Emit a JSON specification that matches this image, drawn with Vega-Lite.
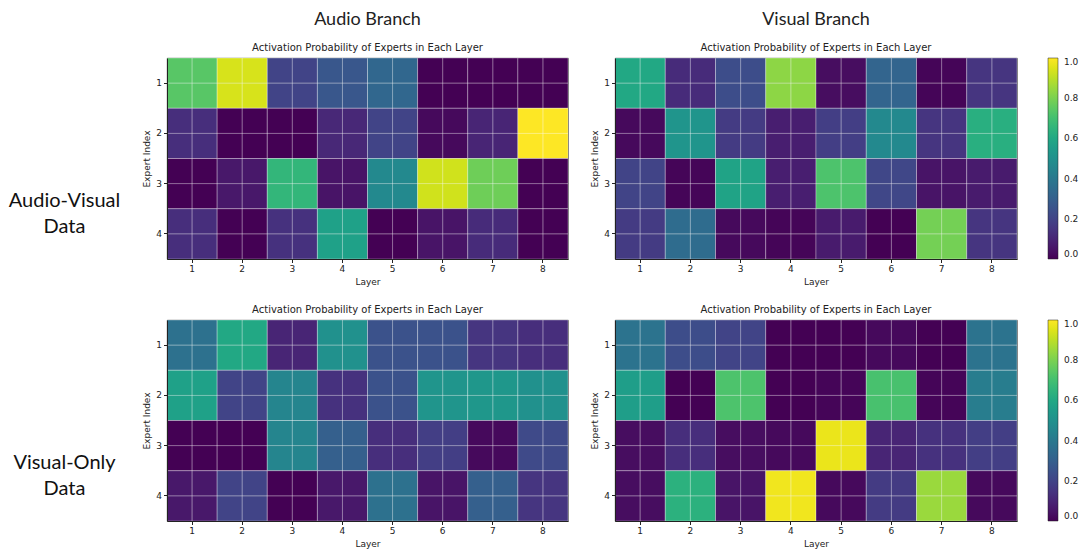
{
  "$schema": "https://vega.github.io/schema/vega-lite/v6.json",
  "padding": {"top": 10, "left": 0, "right": 0, "bottom": 0},
  "background": "white",
  "datasets": {
    "av_audio": [
      {"layer": 1, "expert": 1, "p": 0.74}, {"layer": 1, "expert": 2, "p": 0.13}, {"layer": 1, "expert": 3, "p": 0.0}, {"layer": 1, "expert": 4, "p": 0.13},
      {"layer": 2, "expert": 1, "p": 0.94}, {"layer": 2, "expert": 2, "p": 0.0}, {"layer": 2, "expert": 3, "p": 0.06}, {"layer": 2, "expert": 4, "p": 0.0},
      {"layer": 3, "expert": 1, "p": 0.2}, {"layer": 3, "expert": 2, "p": 0.0}, {"layer": 3, "expert": 3, "p": 0.66}, {"layer": 3, "expert": 4, "p": 0.14},
      {"layer": 4, "expert": 1, "p": 0.27}, {"layer": 4, "expert": 2, "p": 0.11}, {"layer": 4, "expert": 3, "p": 0.05}, {"layer": 4, "expert": 4, "p": 0.57},
      {"layer": 5, "expert": 1, "p": 0.33}, {"layer": 5, "expert": 2, "p": 0.2}, {"layer": 5, "expert": 3, "p": 0.47}, {"layer": 5, "expert": 4, "p": 0.0},
      {"layer": 6, "expert": 1, "p": 0.0}, {"layer": 6, "expert": 2, "p": 0.02}, {"layer": 6, "expert": 3, "p": 0.93}, {"layer": 6, "expert": 4, "p": 0.05},
      {"layer": 7, "expert": 1, "p": 0.0}, {"layer": 7, "expert": 2, "p": 0.1}, {"layer": 7, "expert": 3, "p": 0.78}, {"layer": 7, "expert": 4, "p": 0.12},
      {"layer": 8, "expert": 1, "p": 0.0}, {"layer": 8, "expert": 2, "p": 1.0}, {"layer": 8, "expert": 3, "p": 0.0}, {"layer": 8, "expert": 4, "p": 0.0}
    ],
    "av_visual": [
      {"layer": 1, "expert": 1, "p": 0.6}, {"layer": 1, "expert": 2, "p": 0.02}, {"layer": 1, "expert": 3, "p": 0.2}, {"layer": 1, "expert": 4, "p": 0.17},
      {"layer": 2, "expert": 1, "p": 0.12}, {"layer": 2, "expert": 2, "p": 0.52}, {"layer": 2, "expert": 3, "p": 0.01}, {"layer": 2, "expert": 4, "p": 0.35},
      {"layer": 3, "expert": 1, "p": 0.23}, {"layer": 3, "expert": 2, "p": 0.17}, {"layer": 3, "expert": 3, "p": 0.58}, {"layer": 3, "expert": 4, "p": 0.02},
      {"layer": 4, "expert": 1, "p": 0.83}, {"layer": 4, "expert": 2, "p": 0.08}, {"layer": 4, "expert": 3, "p": 0.08}, {"layer": 4, "expert": 4, "p": 0.01},
      {"layer": 5, "expert": 1, "p": 0.03}, {"layer": 5, "expert": 2, "p": 0.18}, {"layer": 5, "expert": 3, "p": 0.72}, {"layer": 5, "expert": 4, "p": 0.07},
      {"layer": 6, "expert": 1, "p": 0.32}, {"layer": 6, "expert": 2, "p": 0.47}, {"layer": 6, "expert": 3, "p": 0.21}, {"layer": 6, "expert": 4, "p": 0.0},
      {"layer": 7, "expert": 1, "p": 0.01}, {"layer": 7, "expert": 2, "p": 0.15}, {"layer": 7, "expert": 3, "p": 0.05}, {"layer": 7, "expert": 4, "p": 0.79},
      {"layer": 8, "expert": 1, "p": 0.15}, {"layer": 8, "expert": 2, "p": 0.63}, {"layer": 8, "expert": 3, "p": 0.07}, {"layer": 8, "expert": 4, "p": 0.15}
    ],
    "vo_audio": [
      {"layer": 1, "expert": 1, "p": 0.37}, {"layer": 1, "expert": 2, "p": 0.57}, {"layer": 1, "expert": 3, "p": 0.0}, {"layer": 1, "expert": 4, "p": 0.06},
      {"layer": 2, "expert": 1, "p": 0.6}, {"layer": 2, "expert": 2, "p": 0.2}, {"layer": 2, "expert": 3, "p": 0.0}, {"layer": 2, "expert": 4, "p": 0.2},
      {"layer": 3, "expert": 1, "p": 0.1}, {"layer": 3, "expert": 2, "p": 0.45}, {"layer": 3, "expert": 3, "p": 0.45}, {"layer": 3, "expert": 4, "p": 0.0},
      {"layer": 4, "expert": 1, "p": 0.5}, {"layer": 4, "expert": 2, "p": 0.14}, {"layer": 4, "expert": 3, "p": 0.3}, {"layer": 4, "expert": 4, "p": 0.06},
      {"layer": 5, "expert": 1, "p": 0.25}, {"layer": 5, "expert": 2, "p": 0.25}, {"layer": 5, "expert": 3, "p": 0.13}, {"layer": 5, "expert": 4, "p": 0.37},
      {"layer": 6, "expert": 1, "p": 0.25}, {"layer": 6, "expert": 2, "p": 0.52}, {"layer": 6, "expert": 3, "p": 0.18}, {"layer": 6, "expert": 4, "p": 0.05},
      {"layer": 7, "expert": 1, "p": 0.15}, {"layer": 7, "expert": 2, "p": 0.53}, {"layer": 7, "expert": 3, "p": 0.02}, {"layer": 7, "expert": 4, "p": 0.3},
      {"layer": 8, "expert": 1, "p": 0.13}, {"layer": 8, "expert": 2, "p": 0.5}, {"layer": 8, "expert": 3, "p": 0.22}, {"layer": 8, "expert": 4, "p": 0.15}
    ],
    "vo_visual": [
      {"layer": 1, "expert": 1, "p": 0.38}, {"layer": 1, "expert": 2, "p": 0.56}, {"layer": 1, "expert": 3, "p": 0.03}, {"layer": 1, "expert": 4, "p": 0.03},
      {"layer": 2, "expert": 1, "p": 0.23}, {"layer": 2, "expert": 2, "p": 0.0}, {"layer": 2, "expert": 3, "p": 0.13}, {"layer": 2, "expert": 4, "p": 0.64},
      {"layer": 3, "expert": 1, "p": 0.2}, {"layer": 3, "expert": 2, "p": 0.72}, {"layer": 3, "expert": 3, "p": 0.03}, {"layer": 3, "expert": 4, "p": 0.05},
      {"layer": 4, "expert": 1, "p": 0.0}, {"layer": 4, "expert": 2, "p": 0.0}, {"layer": 4, "expert": 3, "p": 0.02}, {"layer": 4, "expert": 4, "p": 0.98},
      {"layer": 5, "expert": 1, "p": 0.0}, {"layer": 5, "expert": 2, "p": 0.01}, {"layer": 5, "expert": 3, "p": 0.97}, {"layer": 5, "expert": 4, "p": 0.02},
      {"layer": 6, "expert": 1, "p": 0.02}, {"layer": 6, "expert": 2, "p": 0.71}, {"layer": 6, "expert": 3, "p": 0.1}, {"layer": 6, "expert": 4, "p": 0.17},
      {"layer": 7, "expert": 1, "p": 0.0}, {"layer": 7, "expert": 2, "p": 0.01}, {"layer": 7, "expert": 3, "p": 0.14}, {"layer": 7, "expert": 4, "p": 0.85},
      {"layer": 8, "expert": 1, "p": 0.38}, {"layer": 8, "expert": 2, "p": 0.42}, {"layer": 8, "expert": 3, "p": 0.18}, {"layer": 8, "expert": 4, "p": 0.02}
    ]
  },
  "config": {
    "font": "DejaVu Sans",
    "view": {"stroke": "#222222", "strokeWidth": 0.8},
    "axis": {
      "labelFont": "DejaVu Sans", "labelFontSize": 9, "labelColor": "#222222",
      "titleFont": "DejaVu Sans", "titleFontSize": 9, "titleFontWeight": "normal", "titleColor": "#222222",
      "tickColor": "#222222", "domainColor": "#222222", "tickSize": 3.5, "labelPadding": 2, "titlePadding": 4,
      "grid": false
    },
    "title": {"font": "DejaVu Sans", "fontSize": 10, "fontWeight": "normal", "color": "#222222", "offset": 5,
      "subtitleFont": "DejaVu Sans", "subtitleFontSize": 10, "subtitleColor": "#222222"},
    "legend": {"labelFont": "DejaVu Sans", "labelFontSize": 9, "labelColor": "#222222"}
  },
  "resolve": {"scale": {"color": "independent"}},
  "spacing": 17,
  "vconcat": [
    {
      "spacing": 21,
      "resolve": {"scale": {"color": "independent"}},
      "hconcat": [
        {
          "width": 121, "height": 201,
          "view": {"stroke": null},
          "data": {"values": [{"row": "Audio-Visual Data"}]},
          "mark": {"type": "text", "text": ["Audio-Visual", "Data"], "font": "Lato", "fontSize": 20, "lineHeight": 26, "color": "#111111", "dx": 4, "dy": 42},
          "encoding": {}
        },
        {
          "width": 401, "height": 201,
          "data": {"name": "av_audio"},
          "title": {"text": "Audio Branch", "subtitle": "Activation Probability of Experts in Each Layer", "font": "Lato", "fontSize": 18, "subtitlePadding": 14, "anchor": "middle"},
          "encoding": {
            "x": {"field": "layer", "type": "ordinal", "title": "Layer", "scale": {"paddingInner": 0, "paddingOuter": 0}, "axis": {"labelAngle": 0}},
            "y": {"field": "expert", "type": "ordinal", "title": "Expert Index", "scale": {"paddingInner": 0, "paddingOuter": 0}}
          },
          "layer": [
            {"mark": {"type": "rect", "stroke": "#ffffff", "strokeOpacity": 0.3, "strokeWidth": 1},
             "encoding": {"color": {"field": "p", "type": "quantitative", "scale": {"scheme": "viridis", "domain": [0, 1]}, "legend": null}}},
            {"mark": {"type": "rule", "color": "#ffffff", "strokeOpacity": 0.13, "strokeWidth": 1}, "encoding": {"y": null}},
            {"mark": {"type": "rule", "color": "#ffffff", "strokeOpacity": 0.07, "strokeWidth": 1}, "encoding": {"x": null}}
          ]
        },
        {
          "width": 402, "height": 201,
          "data": {"name": "av_visual"},
          "title": {"text": "Visual Branch", "subtitle": "Activation Probability of Experts in Each Layer", "font": "Lato", "fontSize": 18, "subtitlePadding": 14, "anchor": "middle"},
          "encoding": {
            "x": {"field": "layer", "type": "ordinal", "title": "Layer", "scale": {"paddingInner": 0, "paddingOuter": 0}, "axis": {"labelAngle": 0}},
            "y": {"field": "expert", "type": "ordinal", "title": "Expert Index", "scale": {"paddingInner": 0, "paddingOuter": 0}}
          },
          "layer": [
            {"mark": {"type": "rect", "stroke": "#ffffff", "strokeOpacity": 0.3, "strokeWidth": 1},
             "encoding": {"color": {"field": "p", "type": "quantitative", "scale": {"scheme": "viridis", "domain": [0, 1]},
              "legend": {"title": null, "direction": "vertical", "gradientLength": 201, "gradientThickness": 10, "values": [0, 0.2, 0.4, 0.6, 0.8, 1.0], "format": ".1f", "offset": 31, "gradientStrokeColor": "#222222", "gradientStrokeWidth": 0.5, "labelOffset": 6}}}},
            {"mark": {"type": "rule", "color": "#ffffff", "strokeOpacity": 0.13, "strokeWidth": 1}, "encoding": {"y": null}},
            {"mark": {"type": "rule", "color": "#ffffff", "strokeOpacity": 0.07, "strokeWidth": 1}, "encoding": {"x": null}}
          ]
        }
      ]
    },
    {
      "spacing": 21,
      "resolve": {"scale": {"color": "independent"}},
      "hconcat": [
        {
          "width": 121, "height": 201,
          "view": {"stroke": null},
          "data": {"values": [{"row": "Visual-Only Data"}]},
          "mark": {"type": "text", "text": ["Visual-Only", "Data"], "font": "Lato", "fontSize": 20, "lineHeight": 26, "color": "#111111", "dx": 4, "dy": 42},
          "encoding": {}
        },
        {
          "width": 401, "height": 201,
          "data": {"name": "vo_audio"},
          "title": {"text": "Activation Probability of Experts in Each Layer", "anchor": "middle"},
          "encoding": {
            "x": {"field": "layer", "type": "ordinal", "title": "Layer", "scale": {"paddingInner": 0, "paddingOuter": 0}, "axis": {"labelAngle": 0}},
            "y": {"field": "expert", "type": "ordinal", "title": "Expert Index", "scale": {"paddingInner": 0, "paddingOuter": 0}}
          },
          "layer": [
            {"mark": {"type": "rect", "stroke": "#ffffff", "strokeOpacity": 0.3, "strokeWidth": 1},
             "encoding": {"color": {"field": "p", "type": "quantitative", "scale": {"scheme": "viridis", "domain": [0, 1]}, "legend": null}}},
            {"mark": {"type": "rule", "color": "#ffffff", "strokeOpacity": 0.13, "strokeWidth": 1}, "encoding": {"y": null}},
            {"mark": {"type": "rule", "color": "#ffffff", "strokeOpacity": 0.07, "strokeWidth": 1}, "encoding": {"x": null}}
          ]
        },
        {
          "width": 402, "height": 201,
          "data": {"name": "vo_visual"},
          "title": {"text": "Activation Probability of Experts in Each Layer", "anchor": "middle"},
          "encoding": {
            "x": {"field": "layer", "type": "ordinal", "title": "Layer", "scale": {"paddingInner": 0, "paddingOuter": 0}, "axis": {"labelAngle": 0}},
            "y": {"field": "expert", "type": "ordinal", "title": "Expert Index", "scale": {"paddingInner": 0, "paddingOuter": 0}}
          },
          "layer": [
            {"mark": {"type": "rect", "stroke": "#ffffff", "strokeOpacity": 0.3, "strokeWidth": 1},
             "encoding": {"color": {"field": "p", "type": "quantitative", "scale": {"scheme": "viridis", "domain": [0, 1]},
              "legend": {"title": null, "direction": "vertical", "gradientLength": 201, "gradientThickness": 10, "values": [0, 0.2, 0.4, 0.6, 0.8, 1.0], "format": ".1f", "offset": 31, "gradientStrokeColor": "#222222", "gradientStrokeWidth": 0.5, "labelOffset": 6}}}},
            {"mark": {"type": "rule", "color": "#ffffff", "strokeOpacity": 0.13, "strokeWidth": 1}, "encoding": {"y": null}},
            {"mark": {"type": "rule", "color": "#ffffff", "strokeOpacity": 0.07, "strokeWidth": 1}, "encoding": {"x": null}}
          ]
        }
      ]
    }
  ]
}
